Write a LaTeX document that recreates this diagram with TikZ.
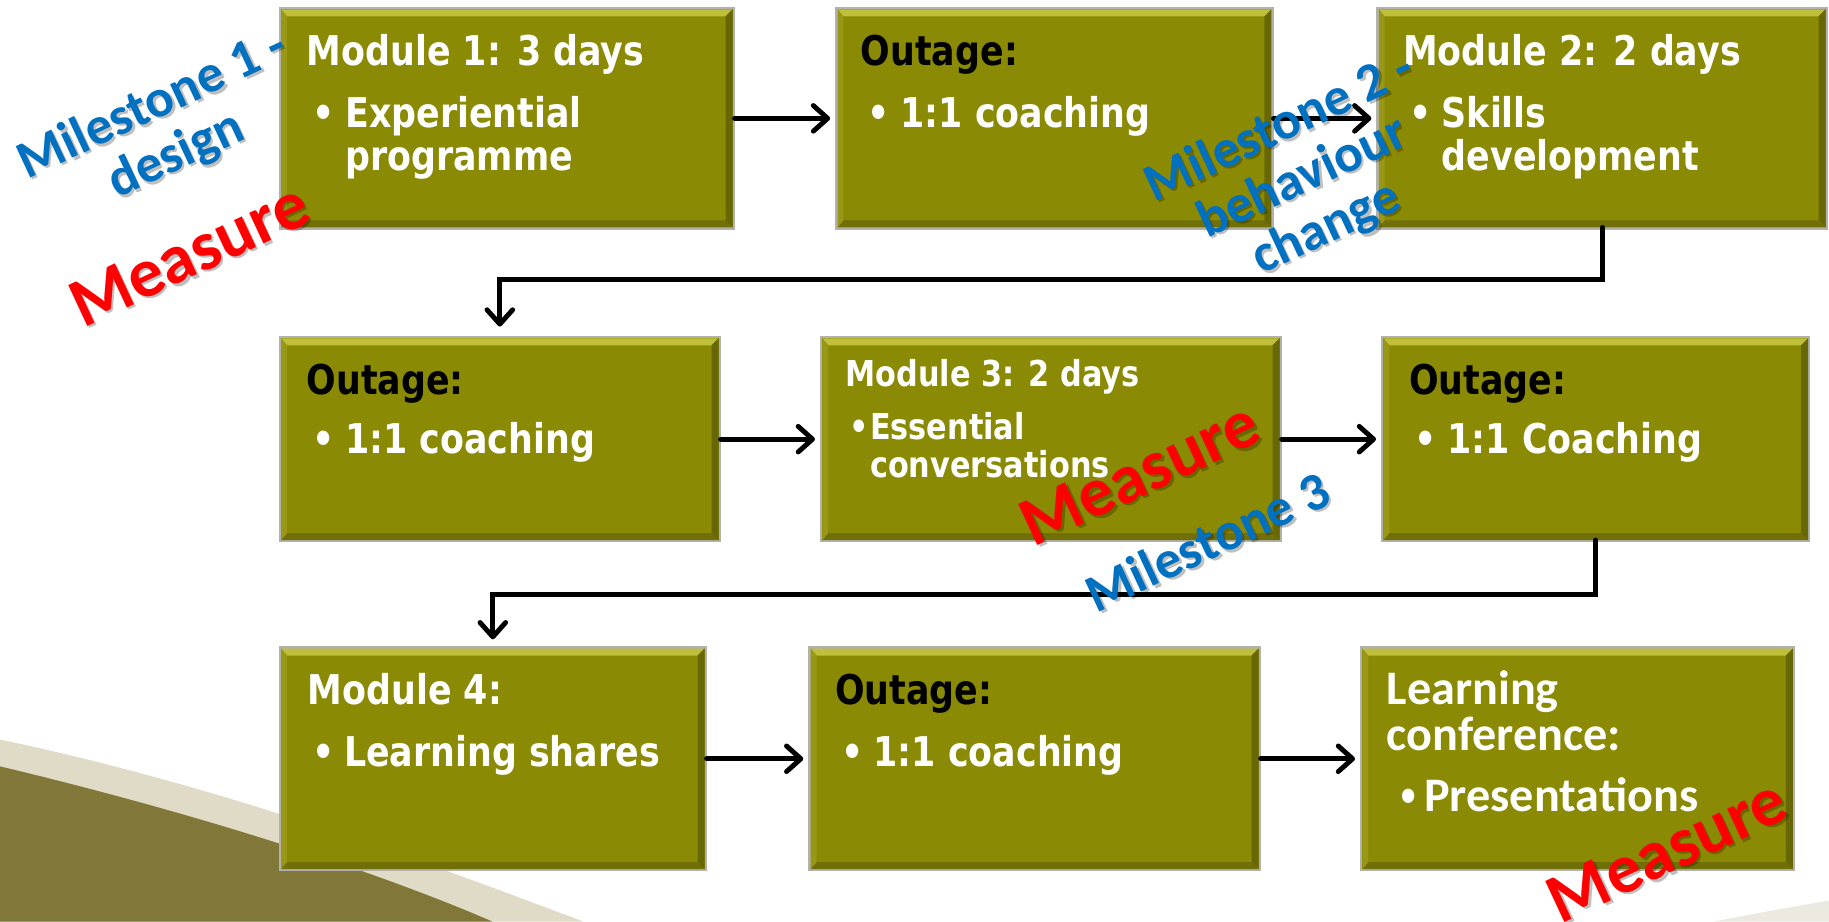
\documentclass[tikz,border=0pt]{standalone}
\usepackage{fontspec}
\setmainfont{DejaVu Sans}
\newfontfamily\boxface[FakeStretch=0.85]{DejaVu Sans}
\newfontfamily\calface{Carlito}
\usetikzlibrary{arrows.meta,fit,calc}

\definecolor{boxolive}{RGB}{139,138,4}
\definecolor{bevlight}{RGB}{192,191,58}
\definecolor{bevright}{RGB}{104,103,6}
\definecolor{bevbottom}{RGB}{112,111,8}
\definecolor{bevleft}{RGB}{152,151,22}
\definecolor{rimgray}{RGB}{178,178,170}
\definecolor{msblue}{RGB}{0,112,192}
\definecolor{msred}{RGB}{255,0,0}
\definecolor{swolive}{RGB}{128,119,56}
\definecolor{swbeige}{RGB}{224,219,198}
\definecolor{swfaint}{RGB}{236,233,224}

% one bevelled olive step box: name, left, top, right, bottom
\newcommand\olivebox[5]{%
  \fill[rimgray] (#2-2,#3-2) rectangle (#4+2,#5+2);
  \node[boxbody,fit={(#2,#3) (#4,#5)}] (#1) {};
  \fill[bevlight] (#1.north west) -- (#1.north east) -- ($(#1.north east)+(-6,6)$) -- ($(#1.north west)+(5,6)$) -- cycle;
  \fill[bevright] (#1.north east) -- (#1.south east) -- ($(#1.south east)+(-6,-6)$) -- ($(#1.north east)+(-6,6)$) -- cycle;
  \fill[bevbottom] (#1.south west) -- (#1.south east) -- ($(#1.south east)+(-6,-6)$) -- ($(#1.south west)+(5,-6)$) -- cycle;
  \fill[bevleft] (#1.north west) -- (#1.south west) -- ($(#1.south west)+(5,-6)$) -- ($(#1.north west)+(5,6)$) -- cycle;
}

\begin{document}
\begin{tikzpicture}[x=0.02cm,y=-0.02cm,
  boxbody/.style={fill=boxolive,inner sep=0pt,outer sep=0pt},
  line/.style={anchor=base west,inner sep=0pt,outer sep=0pt,text=white,
    font=\boxface\bfseries\fontsize{20}{24}\selectfont},
  small/.style={font=\boxface\bfseries\fontsize{17.4}{21}\selectfont},
  dark/.style={text=black},
  calib/.style={font=\calface\bfseries\fontsize{23.5}{27}\selectfont},
  flow/.style={draw=black,line width=2.4pt,line cap=round,
    -{Straight Barb[length=7pt,width=12.5pt,round]}},
  milestone/.style={inner sep=0pt,align=center,text=msblue,rotate=25,
    font=\calface\bfseries\fontsize{26}{27}\selectfont},
  measure/.style={inner sep=0pt,text=msred,rotate=25,
    font=\calface\bfseries\fontsize{34}{36}\selectfont},
  lblshadow/.style={text=black,text opacity=0.25}
]
\useasboundingbox[fill=white] (0,0) rectangle (1568,790);

% background swoosh, lower left and lower right corners
\fill[swbeige] (0,634) .. controls (200,676) and (380,745) .. (500,790) -- (0,790) -- cycle;
\fill[swolive] (0,657) .. controls (180,700) and (330,750) .. (422,790) -- (0,790) -- cycle;
\fill[swfaint] (1470,790) .. controls (1510,782) and (1545,776) .. (1568,772) -- (1568,790) -- cycle;

% step boxes
\olivebox{b1}{241}{8}{628}{195}
\olivebox{b2}{718}{8}{1090}{195}
\olivebox{b3}{1182}{8}{1565}{195}
\olivebox{b4}{241}{290}{616}{463}
\olivebox{b5}{705}{290}{1097}{463}
\olivebox{b6}{1186}{290}{1550}{463}
\olivebox{b7}{241}{556}{604}{745}
\olivebox{b8}{695}{556}{1079}{745}
\olivebox{b9}{1168}{556}{1537}{745}

% connectors
\draw[flow,shorten <=1pt,shorten >=3.6pt] (b1.east) -- (b2.west);
\draw[flow,shorten <=1pt,shorten >=3.6pt] (b2.east) -- (b3.west);
\draw[flow,shorten >=5.7pt] (b3.south) -- ++(0,45) -| (b4.north);
\draw[flow,shorten <=1pt,shorten >=3.6pt] (b4.east) -- (b5.west);
\draw[flow,shorten <=1pt,shorten >=3.6pt] (b5.east) -- (b6.west);
\draw[flow,shorten >=4.5pt] (b6.south) -- ++(0,47) -| (b7.north);
\draw[flow,shorten <=1pt,shorten >=3.6pt] (b7.east) -- (b8.west);
\draw[flow,shorten <=1pt,shorten >=3.6pt] (b8.east) -- (b9.west);

% box texts
\node[line] (t1a) at (263,56) {Module 1: 3 days};
\node[line] (t1b) at (268,109) {•};
\node[line] (t1c) at (296,109) {Experiential};
\node[line] (t1d) at (296,146) {programme};

\node[line,dark] (t2a) at (738,56) {Outage:};
\node[line] (t2b) at (744,109) {•};
\node[line] (t2c) at (772,109) {1:1 coaching};

\node[line] (t3a) at (1203,56) {Module 2: 2 days};
\node[line] (t3b) at (1208,109) {•};
\node[line] (t3c) at (1236,109) {Skills};
\node[line] (t3d) at (1236,146) {development};

\node[line,dark] (t4a) at (263,338) {Outage:};
\node[line] (t4b) at (268,389) {•};
\node[line] (t4c) at (296,389) {1:1 coaching};

\node[line,small] (t5a) at (725,331) {Module 3: 2 days};
\node[line,small] (t5b) at (728,377) {•};
\node[line,small] (t5c) at (746,377) {Essential};
\node[line,small] (t5d) at (746,409) {conversations};

\node[line,dark] (t6a) at (1208,338) {Outage:};
\node[line] (t6b) at (1213,389) {•};
\node[line] (t6c) at (1241,389) {1:1 Coaching};

\node[line] (t7a) at (264,604) {Module 4:};
\node[line] (t7b) at (268,657) {•};
\node[line] (t7c) at (295,657) {Learning shares};

\node[line,dark] (t8a) at (716,604) {Outage:};
\node[line] (t8b) at (721,657) {•};
\node[line] (t8c) at (749,657) {1:1 coaching};

\node[line,calib] (t9a) at (1189,604) {Learning};
\node[line,calib] (t9b) at (1189,643) {conference:};
\node[line] (t9c) at (1198,696) {•};
\node[line,calib] (t9d) at (1221,696) {Presentations};

% milestone and measure call-outs, each with a soft drop shadow
\node[milestone,lblshadow] (m1s) at (143,114) {Milestone 1 -\\design};
\node[milestone] (m1) at (141,112) {Milestone 1 -\\design};
\node[measure,lblshadow] (r1s) at (164,220) {Measure};
\node[measure] (r1) at (162,218) {Measure};

\node[milestone,lblshadow] (m2s) at (1119,155) {Milestone 2 -\\behaviour\\change};
\node[milestone] (m2) at (1117,153) {Milestone 2 -\\behaviour\\change};

\node[measure,lblshadow] (r2s) at (979,408) {Measure};
\node[measure] (r2) at (977,406) {Measure};
\node[milestone,lblshadow] (m3s) at (1037,466) {Milestone 3};
\node[milestone] (m3) at (1035,464) {Milestone 3};

\node[measure,lblshadow] (r3s) at (1431,731) {Measure};
\node[measure] (r3) at (1429,729) {Measure};
\end{tikzpicture}
\end{document}
